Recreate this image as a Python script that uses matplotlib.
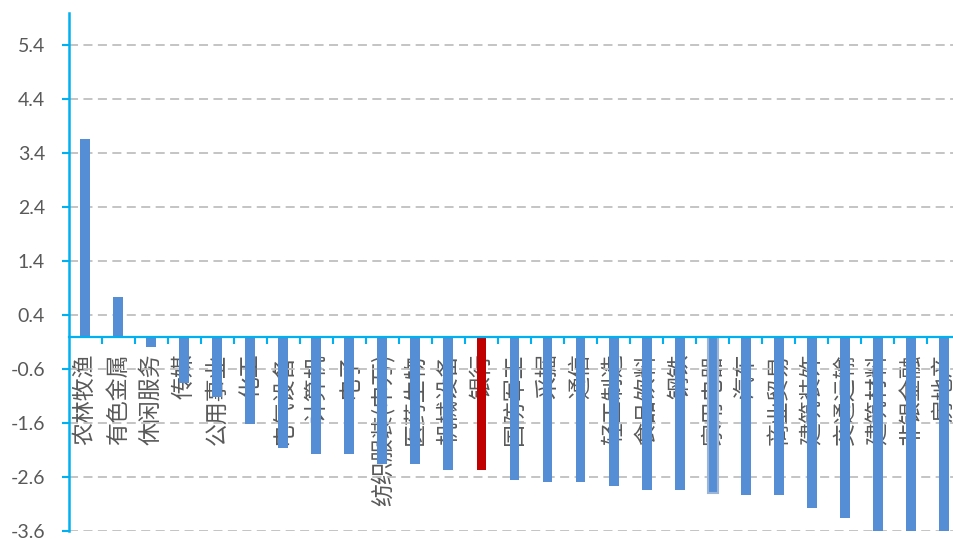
import numpy as np
import matplotlib.pyplot as plt
from matplotlib.ticker import FixedLocator

plt.rcParams['font.family'] = ['Noto Sans CJK SC', 'DejaVu Sans']

# 行业涨跌幅（%）
industries = ['农林牧渔', '有色金属', '休闲服务', '传媒', '公用事业', '化工', '电气设备',
              '计算机', '电子', '纺织服装(申万)', '医药生物', '机械设备', '银行', '国防军工',
              '采掘', '通信', '轻工制造', '食品饮料', '钢铁', '家用电器', '汽车', '商业贸易',
              '建筑装饰', '交通运输', '建筑材料', '非银金融', '房地产']
changes = [3.67, 0.74, -0.19, -0.86, -1.11, -1.62, -2.07,
           -2.17, -2.17, -2.35, -2.35, -2.46, -2.46, -2.65,
           -2.69, -2.69, -2.76, -2.83, -2.83, -2.89, -2.94, -2.94,
           -3.17, -3.35, -3.63, -3.65, -3.68]
yticks = [-3.6, -2.6, -1.6, -0.6, 0.4, 1.4, 2.4, 3.4, 4.4, 5.4]

blue = '#558ED5'
red = '#C00000'
axis_c = '#00B0F0'
txt_c = '#595959'

fig = plt.figure(figsize=(9.54, 5.39), dpi=100)
ax = fig.add_axes([0.072, 0.0147, 0.9346, 0.9613])

# 先定好坐标轴线的位置（set_position 会重置刻度）
for s in ['top', 'right']:
    ax.spines[s].set_visible(False)
ax.spines['bottom'].set_position(('data', 0))
ax.spines['bottom'].set_color(axis_c)
ax.spines['bottom'].set_linewidth(1.6)
ax.spines['bottom'].set_zorder(4)
ax.spines['left'].set_color(axis_c)
ax.spines['left'].set_linewidth(1.8)

x = np.arange(len(industries))
colors = [red if n == '银行' else blue for n in industries]
bars = ax.bar(x, changes, width=0.3, color=colors, zorder=3)
# 家用电器那根柱子带浅色边框
k = industries.index('家用电器')
bars[k].set_edgecolor('#9BB5D8')
bars[k].set_linewidth(1.5)

ax.set_xlim(-0.5, len(industries) - 0.5)
ax.set_ylim(-3.6, 6.0)

ax.tick_params(axis='y', length=5, width=1.5, color=axis_c, pad=12)
ax.set_yticks(yticks)
ax.set_yticklabels(['%.1f' % v for v in yticks], family='Lato', fontsize=14, color=txt_c)
ax.yaxis.grid(True, color='#BFBFBF', linestyle=(0, (5, 3)), linewidth=1.3, zorder=0)

# 类别标签竖排，分隔刻度放在类别之间
ax.tick_params(axis='x', which='major', length=0, pad=12)
ax.tick_params(axis='x', which='minor', length=5, width=1.5, color=axis_c, direction='out')
ax.xaxis.set_minor_locator(FixedLocator(x[:-1] + 0.5))
ax.set_xticks(x)
ax.set_xticklabels(industries, rotation=90, va='top', ha='center',
                   fontsize=16.5, color=txt_c)
for lab in ax.get_xticklabels():
    lab.set_zorder(5)

fig.savefig('out.png', dpi=100)
